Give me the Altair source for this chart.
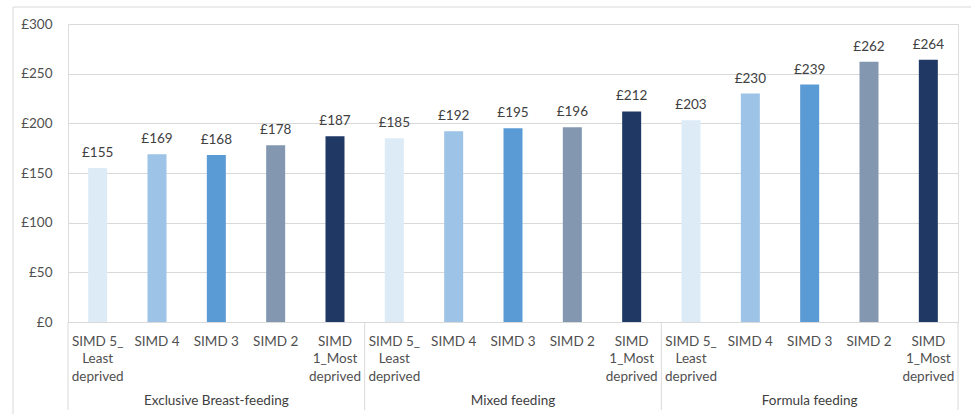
import altair as alt
import pandas as pd

groups = ["Exclusive Breast-feeding", "Mixed feeding", "Formula feeding"]
simd = ["SIMD 5_ Least deprived", "SIMD 4", "SIMD 3", "SIMD 2", "SIMD 1_Most deprived"]
simd_lines = ["SIMD 5_~Least~deprived", "SIMD 4", "SIMD 3", "SIMD 2", "SIMD~1_Most~deprived"]
ebf = [155, 169, 168, 178, 187]
mixed = [185, 192, 195, 196, 212]
formula = [203, 230, 239, 262, 264]
colors = ["#DDEBF7", "#9DC3E6", "#5B9BD5", "#8497B0", "#203864"]

W, H = 890, 298
FONT = "Lato"
FS = 13.5

rows = []
for g, vals in zip(groups, [ebf, mixed, formula]):
    for s, lines, v in zip(simd, simd_lines, vals):
        rows.append({"group": g, "simd": s, "key": f"{g}::{lines}", "value": v, "label": f"£{v}"})
df = pd.DataFrame(rows)
keys = list(df["key"])

xscale = alt.Scale(domain=keys, paddingInner=0, paddingOuter=0)

base = alt.Chart(df)

bars = base.mark_bar(size=19).encode(
    x=alt.X("key:N", scale=xscale, title=None,
            axis=alt.Axis(labelExpr="split(split(datum.label, '::')[1], '~')",
                          labelAngle=0, ticks=False, domainColor="#D9D9D9",
                          labelPadding=12, labelLineHeight=17.5, labelBaseline="top",
                          labelFontSize=FS, labelColor="#505050", labelFont=FONT,
                          labelOverlap=False, labelBound=False, labelLimit=0)),
    y=alt.Y("value:Q", scale=alt.Scale(domain=[0, 300]), title=None,
            axis=alt.Axis(values=[0, 50, 100, 150, 200, 250, 300],
                          labelExpr="'£' + datum.value", domain=False, ticks=False,
                          gridColor="#D9D9D9", labelPadding=16, labelFontSize=FS,
                          labelColor="#505050", labelFont=FONT)),
    color=alt.Color("simd:N", scale=alt.Scale(domain=simd, range=colors), legend=None),
)

texts = base.mark_text(dy=-8, baseline="bottom", fontSize=FS, font=FONT, color="#404040").encode(
    x=alt.X("key:N", scale=xscale),
    y=alt.Y("value:Q"),
    text="label:N",
)

gdf = pd.DataFrame({
    "group": groups,
    "mid": [keys[i * 5 + 2] for i in range(3)],
    "first": [keys[i * 5] for i in range(3)],
})
glabels = alt.Chart(gdf).mark_text(fontSize=FS, font=FONT, color="#404040", baseline="middle").encode(
    x=alt.X("mid:N", scale=xscale),
    y=alt.value(H + 79),
    text="group:N",
)
seps = alt.Chart(gdf).mark_rule(color="#D9D9D9", strokeWidth=1).encode(
    x=alt.X("first:N", scale=xscale, bandPosition=0),
    y=alt.value(H),
    y2=alt.value(H + 88),
)
edf = pd.DataFrame({"last": [keys[-1]]})
sep_end = alt.Chart(edf).mark_rule(color="#D9D9D9", strokeWidth=1).encode(
    x=alt.X("last:N", scale=xscale, bandPosition=1),
    y=alt.value(H),
    y2=alt.value(H + 88),
)
border = alt.Chart(edf).mark_rect(fill=None, stroke="#D9D9D9", strokeWidth=1).encode(
    x=alt.value(-55), x2=alt.value(920), y=alt.value(-17), y2=alt.value(400),
)

chart = alt.layer(border, bars, texts, glabels, seps, sep_end).properties(
    width=W, height=H,
    autosize=alt.AutoSizeParams(type="none"),
    padding={"left": 68, "top": 24, "right": 13, "bottom": 92},
).configure_view(stroke=None).configure(background="white")

chart.save("out.html", embed_options={"renderer": "svg", "actions": False})
